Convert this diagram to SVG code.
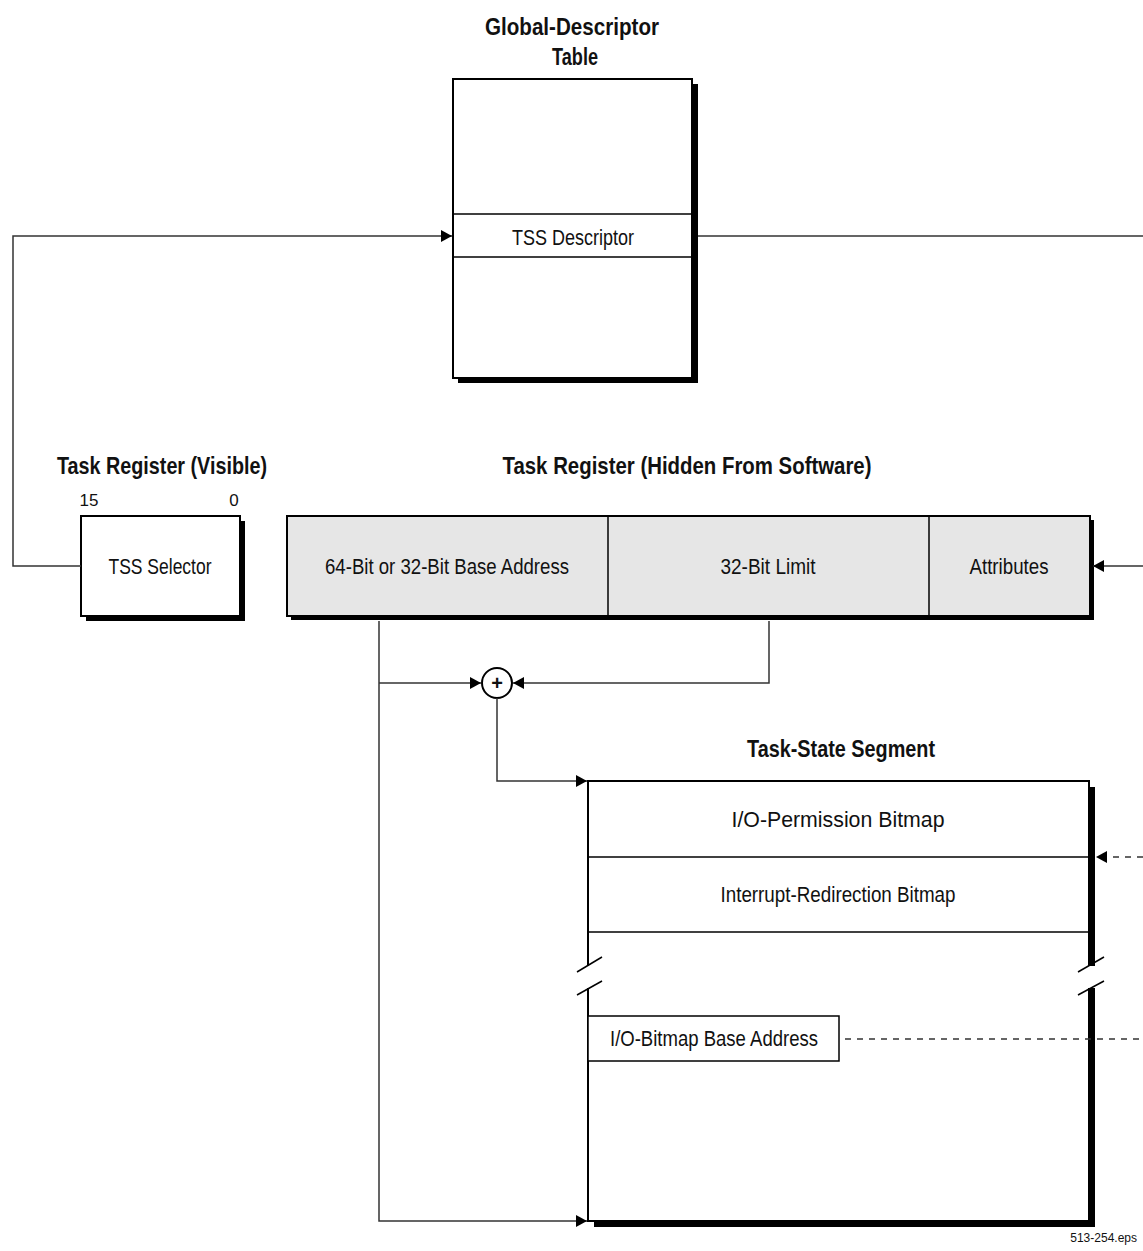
<svg xmlns="http://www.w3.org/2000/svg" width="1143" height="1251" viewBox="0 0 1143 1251">
<defs>
<style>
text{font-family:"Liberation Sans",Arial,sans-serif;fill:#111;}
.t{font-size:22px;text-anchor:middle;}
.h{font-size:24px;font-weight:bold;text-anchor:middle;}
.s{font-size:17px;text-anchor:middle;}
.box{fill:#fff;stroke:#000;stroke-width:2;}
.reg{fill:#e6e6e6;stroke:#000;stroke-width:2;}
.sh{fill:#000;}
.ln{fill:none;stroke:#000;stroke-width:1.5;}
.c{fill:none;stroke:#333;stroke-width:1.5;}
.d{fill:none;stroke:#333;stroke-width:1.5;stroke-dasharray:6 6;}
</style>
<marker id="ah" markerWidth="12" markerHeight="12" refX="11" refY="6" orient="auto" markerUnits="userSpaceOnUse">
<path d="M0,0 L11,6 L0,12 Z" fill="#000"/>
</marker>
</defs>
<rect width="1143" height="1251" fill="#fff"/>

<g id="gdt">
<text class="h" x="572" y="35" textLength="174" lengthAdjust="spacingAndGlyphs">Global-Descriptor</text>
<text class="h" x="575" y="65" textLength="46" lengthAdjust="spacingAndGlyphs">Table</text>
<rect class="sh" x="458" y="84" width="240" height="299"/>
<rect class="box" x="453" y="79" width="239" height="299"/>
<line class="ln" x1="453" y1="214" x2="692" y2="214"/>
<line class="ln" x1="453" y1="257" x2="692" y2="257"/>
<text class="t" x="573" y="245" textLength="122" lengthAdjust="spacingAndGlyphs">TSS Descriptor</text>
</g>

<g id="tr-visible">
<text class="h" x="162" y="474" textLength="210" lengthAdjust="spacingAndGlyphs">Task Register (Visible)</text>
<text class="s" x="89" y="506">15</text>
<text class="s" x="234" y="506">0</text>
<rect class="sh" x="86" y="521" width="159" height="100"/>
<rect class="box" x="81" y="516" width="159" height="100"/>
<text class="t" x="160" y="574" textLength="103" lengthAdjust="spacingAndGlyphs">TSS Selector</text>
</g>

<g id="tr-hidden">
<text class="h" x="687" y="474" textLength="369" lengthAdjust="spacingAndGlyphs">Task Register (Hidden From Software)</text>
<rect class="sh" x="291" y="520" width="803" height="100"/>
<rect class="reg" x="287" y="516" width="803" height="100"/>
<line class="ln" x1="608" y1="516" x2="608" y2="616" stroke-width="2"/>
<line class="ln" x1="929" y1="516" x2="929" y2="616" stroke-width="2"/>
<text class="t" x="447" y="574" textLength="244" lengthAdjust="spacingAndGlyphs">64-Bit or 32-Bit Base Address</text>
<text class="t" x="768" y="574" textLength="95" lengthAdjust="spacingAndGlyphs">32-Bit Limit</text>
<text class="t" x="1009" y="574" textLength="79" lengthAdjust="spacingAndGlyphs">Attributes</text>
</g>

<g id="adder">
<circle cx="497" cy="683" r="15" fill="#fff" stroke="#000" stroke-width="2"/>
<text x="497" y="690" font-size="20" font-weight="bold" text-anchor="middle">+</text>
</g>

<g id="tss">
<text class="h" x="841" y="757" textLength="188" lengthAdjust="spacingAndGlyphs">Task-State Segment</text>
<rect class="sh" x="594" y="787" width="501" height="440"/>
<rect class="box" x="588" y="781" width="501" height="440"/>
<rect x="570" y="966" width="540" height="22" fill="#fff"/>
<line class="ln" x1="588" y1="857" x2="1089" y2="857"/>
<line class="ln" x1="588" y1="932" x2="1089" y2="932"/>
<line class="ln" x1="577" y1="972" x2="602" y2="957"/>
<line class="ln" x1="577" y1="995" x2="602" y2="981"/>
<line class="ln" x1="1078" y1="972" x2="1104" y2="957"/>
<line class="ln" x1="1078" y1="995" x2="1104" y2="981"/>
<text class="t" x="838" y="827" textLength="213" lengthAdjust="spacingAndGlyphs">I/O-Permission Bitmap</text>
<text class="t" x="838" y="902" textLength="235" lengthAdjust="spacingAndGlyphs">Interrupt-Redirection Bitmap</text>
</g>

<g id="iobase">
<rect x="588" y="1016" width="251" height="45" fill="#fff" stroke="#000" stroke-width="1.5"/>
<text class="t" x="714" y="1046" textLength="208" lengthAdjust="spacingAndGlyphs">I/O-Bitmap Base Address</text>
</g>

<g id="connectors">
<path class="c" d="M81,566 H13 V236 H452" marker-end="url(#ah)"/>
<path class="c" d="M698,236 H1148 V566 H1093" marker-end="url(#ah)"/>
<path class="c" d="M379,621 V1221 H587" marker-end="url(#ah)"/>
<path class="c" d="M379,683 H481" marker-end="url(#ah)"/>
<path class="c" d="M769,621 V683 H513" marker-end="url(#ah)"/>
<path class="c" d="M497,698 V781 H587" marker-end="url(#ah)"/>
<path class="d" d="M1143,857 H1096" marker-end="url(#ah)"/>
<path class="d" d="M845,1039 H1143"/>
</g>

<text x="1137" y="1242" font-size="12" text-anchor="end">513-254.eps</text>
</svg>
